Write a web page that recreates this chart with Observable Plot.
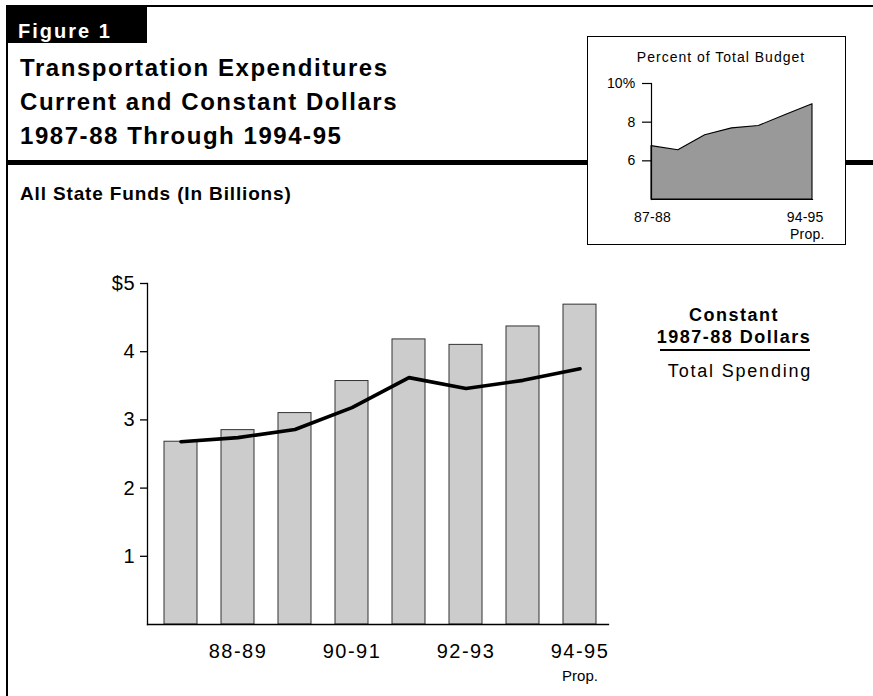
<!DOCTYPE html>
<html><head><meta charset="utf-8">
<script src="https://cdn.jsdelivr.net/npm/d3@7"></script>
<script src="https://cdn.jsdelivr.net/npm/@observablehq/plot@0.6"></script>
<style>
body{margin:0;background:#fff;font-family:"Liberation Sans",Arial,sans-serif;color:#000;}
#page{position:relative;width:873px;height:696px;overflow:hidden;background:#fff;}
.abs{position:absolute;white-space:nowrap;}
.blk{position:absolute;background:#000;}
#main svg, #inset svg{display:block;}
#main svg g[aria-label="x-axis tick label"] text{letter-spacing:1.5px;}
#main svg g[aria-label="y-axis tick label"] text{letter-spacing:0.8px;}
#inset svg text{letter-spacing:0.2px;}
</style></head><body>
<div id="page">
  <div class="blk" style="left:6px;top:5px;width:141px;height:38px;"></div>
  <div class="abs" style="left:18px;top:21px;font-size:20px;line-height:1;font-weight:bold;color:#fff;letter-spacing:2px;">Figure 1</div>
  <div class="blk" style="left:147px;top:5px;width:726px;height:2px;"></div>
  <div class="blk" style="left:6px;top:5px;width:2px;height:691px;"></div>
  <div class="abs" style="left:20px;top:50.7px;font-size:24px;line-height:34px;font-weight:bold;letter-spacing:1.55px;">Transportation Expenditures<br>Current and Constant Dollars<br>1987-88 Through 1994-95</div>
  <div class="blk" style="left:6px;top:160px;width:867px;height:5px;"></div>
  <div class="abs" style="left:20px;top:184px;font-size:19px;line-height:1;font-weight:bold;letter-spacing:0.85px;">All State Funds (In Billions)</div>

  <div id="inset" class="abs" style="left:587px;top:36px;width:257px;height:207px;border:1px solid #000;background:#fff;"></div>
  <div class="abs" style="left:621px;width:200px;text-align:center;top:49.9px;font-size:14px;line-height:1;letter-spacing:1px;">Percent of Total Budget</div>

  <div id="main" class="abs" style="left:0;top:270px;"></div>

  <div class="abs" style="left:634px;width:200px;text-align:center;top:305.5px;font-size:18px;line-height:1;font-weight:bold;letter-spacing:1.5px;">Constant</div>
  <div class="abs" style="left:634px;width:200px;text-align:center;top:327.5px;font-size:18px;line-height:1;font-weight:bold;letter-spacing:1.5px;">1987-88 Dollars</div>
  <div class="blk" style="left:660px;top:349px;width:150px;height:2px;"></div>
  <div class="abs" style="left:640px;width:200px;text-align:center;top:361.8px;font-size:18px;line-height:1;letter-spacing:1.8px;">Total Spending</div>
</div>
<script>
// ---- data ----
const years = ["87-88","88-89","89-90","90-91","91-92","92-93","93-94","94-95"];
const currentDollars = [2.68, 2.85, 3.10, 3.57, 4.18, 4.10, 4.37, 4.69];
const constantDollars = [2.68, 2.74, 2.86, 3.18, 3.62, 3.46, 3.58, 3.75];
const yTicks = [1, 2, 3, 4, 5];
const xTickLabels = ["88-89", "90-91", "92-93", "94-95"];
const propLabel = ["Prop."];
const propYear = ["94-95"];

const insetIndex = [0, 1, 2, 3, 4, 5, 6];
const insetPercent = [6.76, 6.55, 7.32, 7.68, 7.80, 8.37, 8.93];
const insetDomain = [4, 10];
const insetTicks = [6, 8, 10];
const insetFirstLabel = ["87-88"];
const insetLastLabel = ["94-95"];
const insetFirstIndex = [0];
const insetLastIndex = [6];

const font = '"Liberation Sans", Arial, sans-serif';

// ---- main chart ----
const rows = years.map((y, i) => ({year: y, current: currentDollars[i], constant: constantDollars[i]}));
const main = Plot.plot({
  width: 680, height: 420,
  marginLeft: 147, marginRight: 72, marginTop: 13, marginBottom: 66,
  style: {fontFamily: font, color: "#000", background: "transparent"},
  x: {type: "band", domain: years, paddingInner: 0.413, paddingOuter: 0.239, align: 0.597, label: null},
  y: {domain: [0, 5], label: null},
  marks: [
    Plot.barY(rows, {x: "year", y: "current", fill: "#cccccc", stroke: "#333", strokeWidth: 1}),
    Plot.line(rows, {x: "year", y: "constant", stroke: "#000", strokeWidth: 3.6, strokeLinejoin: "round"}),
    Plot.frame({anchor: "left", stroke: "#000", strokeWidth: 1.3}),
    Plot.frame({anchor: "bottom", stroke: "#000", strokeWidth: 1.3}),
    Plot.axisY({ticks: yTicks, tickSize: 7, tickPadding: 5, fontSize: 20, label: null, tickFormat: d => d === 5 ? "$5" : String(d), stroke: "#000", strokeWidth: 1.3}),
    Plot.axisX({ticks: xTickLabels, tickSize: 0, tickPadding: 19, fontSize: 20, label: null}),
    Plot.text(propLabel, {x: propYear, frameAnchor: "bottom", lineAnchor: "bottom", dy: 56.7, fontSize: 15, text: d => d})
  ]
});
document.getElementById("main").appendChild(main);

// ---- inset ----
const insetRows = insetIndex.map((x, i) => ({x, p: insetPercent[i]}));
const inset = Plot.plot({
  width: 257, height: 207,
  marginLeft: 63, marginRight: 33, marginTop: 46, marginBottom: 45,
  style: {fontFamily: font, color: "#000", background: "transparent"},
  x: {domain: [insetIndex[0], insetIndex[insetIndex.length - 1]], axis: null},
  y: {domain: insetDomain, label: null},
  marks: [
    Plot.areaY(insetRows, {x: "x", y1: insetDomain[0], y2: "p", fill: "#999999", stroke: "#000", strokeWidth: 1.1}),
    Plot.frame({anchor: "left", stroke: "#000", strokeWidth: 1.2}),
    Plot.frame({anchor: "bottom", stroke: "#000", strokeWidth: 1.2}),
    Plot.axisY({ticks: insetTicks, tickSize: 9, tickPadding: 7, fontSize: 14, label: null, tickFormat: d => d === 10 ? "10%" : String(d), stroke: "#000", strokeWidth: 1.2}),
    Plot.text(insetFirstLabel, {x: insetFirstIndex, text: d => d, frameAnchor: "bottom", lineAnchor: "bottom", dy: 22.7, dx: 1, fontSize: 14, textAnchor: "middle"}),
    Plot.text(insetLastLabel, {x: insetLastIndex, text: d => d, frameAnchor: "bottom", lineAnchor: "bottom", dy: 22.7, dx: 11, fontSize: 14, textAnchor: "end"}),
    Plot.text(propLabel, {x: insetLastIndex, text: d => d, frameAnchor: "bottom", lineAnchor: "bottom", dy: 39.3, dx: 12, fontSize: 14, textAnchor: "end"})
  ]
});
document.getElementById("inset").appendChild(inset);
</script>
</body></html>
